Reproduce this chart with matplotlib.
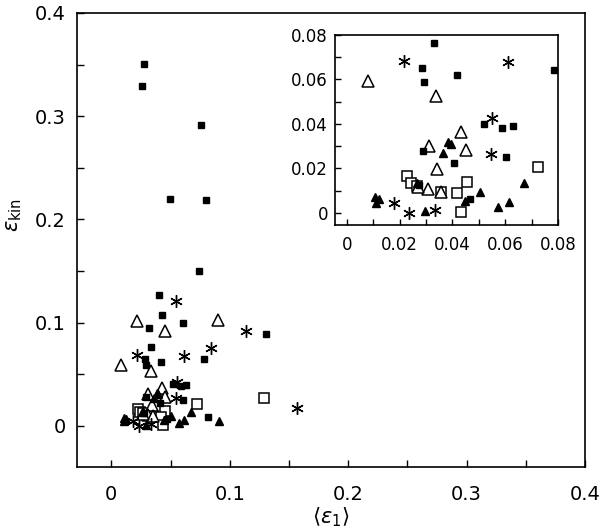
import numpy as np
import matplotlib
matplotlib.use('Agg')
import matplotlib.pyplot as plt
from matplotlib.ticker import MultipleLocator

plt.rcParams['font.family'] = ['DejaVu Sans']
plt.rcParams['mathtext.fontset'] = 'dejavusans'

# Filled squares
fsq_x = [0.0278, 0.0258, 0.0761, 0.0498, 0.0798, 0.0739, 0.0405, 0.043, 0.0609, 0.0318, 0.131, 0.0814,
         0.0332, 0.0286, 0.0294, 0.0418, 0.0785, 0.0518, 0.0586, 0.063, 0.029, 0.0407, 0.0603, 0.0466, 0.0275]
fsq_y = [0.351, 0.329, 0.291, 0.220, 0.219, 0.150, 0.127, 0.107, 0.100, 0.0945, 0.089, 0.008,
         0.0763, 0.065, 0.0587, 0.0622, 0.0643, 0.040, 0.0382, 0.039, 0.0279, 0.0223, 0.0253, 0.0064, 0.0126]

# Open triangles
otri_x = [0.0213, 0.0905, 0.0456, 0.0081, 0.0338, 0.0432, 0.0312, 0.045, 0.0341, 0.0309, 0.0356, 0.0271]
otri_y = [0.101, 0.102, 0.092, 0.0593, 0.0526, 0.0364, 0.0303, 0.0283, 0.0196, 0.0108, 0.0093, 0.0115]

# Asterisks
ast_x = [0.0547, 0.1137, 0.084, 0.1564, 0.0218, 0.061, 0.0551, 0.0545, 0.018, 0.0237, 0.0335]
ast_y = [0.1205, 0.0915, 0.0755, 0.017, 0.0685, 0.068, 0.0426, 0.0265, 0.0044, 0.0, 0.0013]

# Open squares
osq_x = [0.129, 0.0227, 0.0243, 0.0265, 0.0356, 0.0456, 0.0417, 0.0433, 0.0724]
osq_y = [0.027, 0.0166, 0.0136, 0.0121, 0.0093, 0.0138, 0.0088, 0.0006, 0.0208]

# Filled triangles
ftri_x = [0.0908, 0.0106, 0.0123, 0.011, 0.0297, 0.0385, 0.0394, 0.0364, 0.0503, 0.0446, 0.0573, 0.0615, 0.0673, 0.0265]
ftri_y = [0.0045, 0.0071, 0.0063, 0.0046, 0.001, 0.032, 0.0309, 0.0268, 0.0094, 0.0054, 0.0028, 0.0051, 0.0136, 0.0135]


def draw_points(ax):
    ax.plot(osq_x, osq_y, ls='none', marker='s', ms=7, mfc='white', mec='black', mew=1.1)
    ax.plot(otri_x, otri_y, ls='none', marker='^', ms=8.5, mfc='white', mec='black', mew=1.1)
    ax.plot(fsq_x, fsq_y, ls='none', marker='s', ms=5, mfc='black', mec='black')
    ax.plot(ftri_x, ftri_y, ls='none', marker='^', ms=6, mfc='black', mec='black')
    ax.plot(ast_x, ast_y, ls='none', marker=(6, 2, 0), ms=9, mec='black', mew=1.0)


fig = plt.figure(figsize=(6, 5.3), dpi=100)

# Main plot
ax = fig.add_axes([0.1283, 0.1189, 0.8467, 0.8566])
draw_points(ax)
ax.set_xlim(-0.029, 0.4)
ax.set_ylim(-0.04, 0.4)
ax.xaxis.set_minor_locator(MultipleLocator(0.05))
ax.yaxis.set_minor_locator(MultipleLocator(0.05))
ax.set_xticks([0, 0.1, 0.2, 0.3, 0.4], ['0', '0.1', '0.2', '0.3', '0.4'])
ax.set_yticks([0, 0.1, 0.2, 0.3, 0.4], ['0', '0.1', '0.2', '0.3', '0.4'])
ax.tick_params(axis='x', which='both', direction='in', length=5, width=1, labelsize=14, pad=13)
ax.tick_params(axis='y', which='both', direction='in', length=5, width=1, labelsize=14, pad=8)
for s in ax.spines.values():
    s.set_linewidth(1.2)
ax.set_xlabel(r'$\langle\varepsilon_1\rangle$', fontsize=15)
ax.set_ylabel(r'$\varepsilon_{\rm kin}$', fontsize=15)
ax.xaxis.set_label_coords(0.5, -0.085)
ax.yaxis.set_label_coords(-0.105, 0.555)

# Inset
axi = fig.add_axes([0.5583, 0.5755, 0.3717, 0.3585])
draw_points(axi)
axi.set_xlim(-0.0045, 0.08)
axi.set_ylim(-0.0054, 0.08)
axi.set_xticks([0, 0.02, 0.04, 0.06, 0.08], ['0', '0.02', '0.04', '0.06', '0.08'])
axi.set_yticks([0, 0.02, 0.04, 0.06, 0.08], ['0', '0.02', '0.04', '0.06', '0.08'])
axi.xaxis.set_minor_locator(MultipleLocator(0.01))
axi.yaxis.set_minor_locator(MultipleLocator(0.01))
axi.tick_params(axis='x', which='both', direction='in', length=4, width=1, labelsize=12, pad=8)
axi.tick_params(axis='y', which='both', direction='in', length=4, width=1, labelsize=12, pad=5)
for s in axi.spines.values():
    s.set_linewidth(1.2)

fig.savefig('out.png', dpi=100)
